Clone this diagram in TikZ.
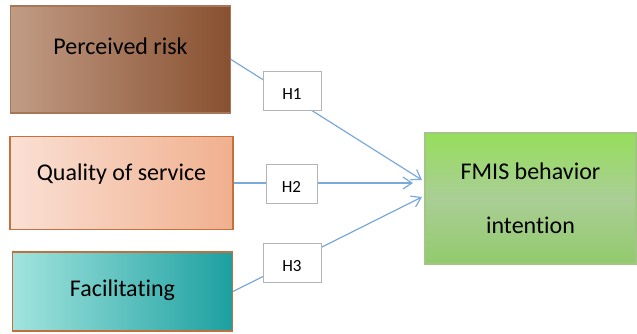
\documentclass[tikz,border=0pt]{standalone}
\usepackage{fontspec}
\setmainfont[Ligatures=NoCommon]{Carlito}
\usepackage{tikz}
\usetikzlibrary{arrows.meta,shapes}
\usepackage{xcolor}
\definecolor{riskL}{RGB}{193,156,133}
\definecolor{riskR}{RGB}{136,80,48}
\definecolor{riskB}{RGB}{165,118,88}
\definecolor{qualL}{RGB}{250,224,212}
\definecolor{qualR}{RGB}{240,176,142}
\definecolor{qualB}{RGB}{198,112,62}
\definecolor{facL}{RGB}{162,228,222}
\definecolor{facR}{RGB}{28,160,160}
\definecolor{facB}{RGB}{192,112,62}
\definecolor{fmisT}{RGB}{150,222,92}
\definecolor{fmisM}{RGB}{170,206,150}
\definecolor{fmisD}{RGB}{146,202,108}
\definecolor{fmisB}{RGB}{162,198,132}
\definecolor{hypB}{RGB}{180,180,180}
\definecolor{linkC}{RGB}{122,170,220}
\tikzset{
	basic/.style = {draw, rectangle, line width=1.1pt},
	factor/.style = {basic, minimum width=220pt},
	boxtext/.style = {font=\fontsize{24}{28}\selectfont, text height=16pt, text depth=5pt},
	hyp/.style = {draw=hypB, fill=white, rectangle, line width=0.8pt, minimum height=39pt, inner sep=0pt,
		font=\fontsize{17}{20}\selectfont, text height=17pt, text depth=0pt},
	link/.style = {->, draw=linkC, line width=1.2pt}
}

\begin{document}
\begin{tikzpicture}[x=1pt, y=-1pt, >={Straight Barb[length=9pt,width=12pt]}]
	\useasboundingbox (0,0) rectangle (637,333);
	% factors
	\node[factor, left color=riskL, right color=riskR, draw=riskB, minimum height=107pt,
		label={[boxtext, yshift=11pt]center:Perceived risk}] (risk) at (120.5,59.5) {};
	\node[factor, left color=qualL, right color=qualR, draw=qualB, minimum width=223pt, minimum height=93pt,
		label={[boxtext, yshift=8pt]center:Quality of service}] (quality) at (121.5,183) {};
	\node[factor, left color=facL, right color=facR, draw=facB, minimum height=79pt,
		label={[boxtext, yshift=1pt]center:Facilitating}] (facil) at (122.5,291.5) {};
	% outcome
	\node[basic, top color=fmisT, bottom color=fmisD, middle color=fmisM, draw=fmisB,
		minimum width=211pt, minimum height=131pt, align=center,
		font=\fontsize{24}{54}\selectfont] (fmis) at (530.5,198.5) {FMIS behavior\\intention};
	\coordinate (t1) at (422,180);
	\coordinate (t2) at (413,183);
	\coordinate (t3) at (422,197);
	\draw[link] (risk.east) -- (t1);
	\draw[link] (quality.east) -- (t2);
	\draw[link] (facil.east) -- (t3);
	% hypotheses
	\node[hyp, minimum width=58pt] (h1) at (292,90.5) {H1};
	\node[hyp, minimum width=51pt] (h2) at (291.5,183.5) {H2};
	\node[hyp, minimum width=58pt] (h3) at (292,263) {H3};
\end{tikzpicture}
\end{document}
